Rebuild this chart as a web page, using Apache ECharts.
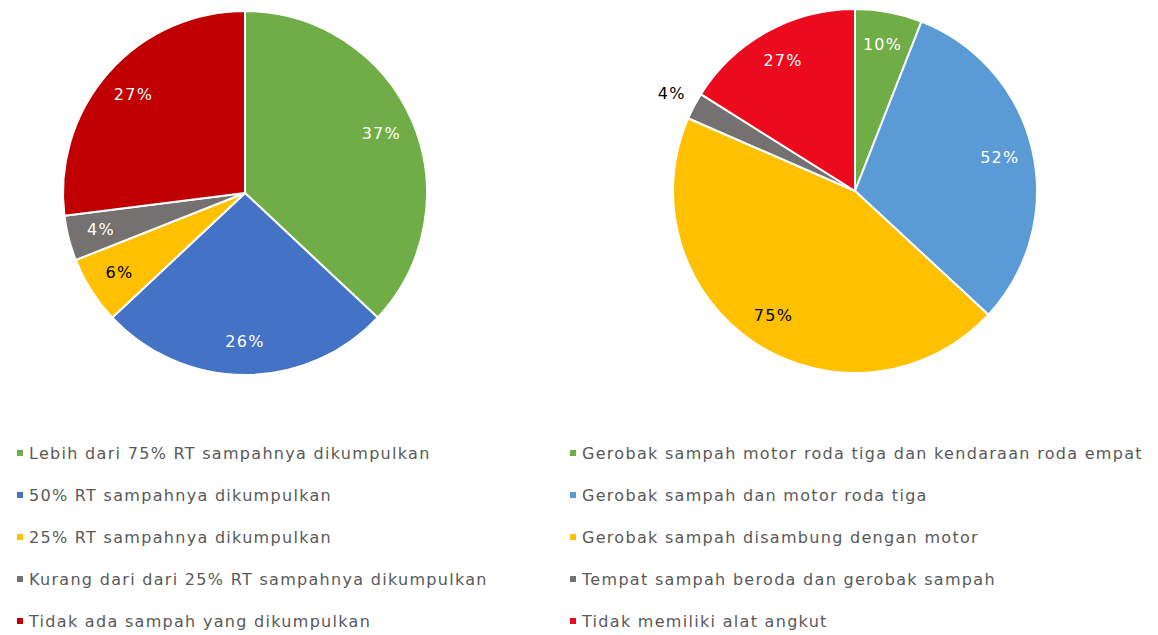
<!DOCTYPE html>
<html>
<head>
<meta charset="utf-8">
<script src="https://cdn.jsdelivr.net/npm/echarts@6/dist/echarts.min.js"></script>
<style>
  html, body { margin: 0; padding: 0; background: #fff; }
  #main { width: 1158px; height: 635px; }
  /* Excel's text is set a little looser than DejaVu's default */
  #main text { letter-spacing: 1.3px; }
</style>
</head>
<body>
<div id="main"></div>
<script>
// left pie: share of households whose waste is collected
const leftNames = [
  'Lebih dari 75% RT sampahnya dikumpulkan',
  '50% RT sampahnya dikumpulkan',
  '25% RT sampahnya dikumpulkan',
  'Kurang dari dari 25% RT sampahnya dikumpulkan',
  'Tidak ada sampah yang dikumpulkan'
];
const leftValues = [37, 26, 6, 4, 27];
const leftColors = ['#70AD47', '#4472C4', '#FFC000', '#767171', '#C00000'];
const leftLabelColors = ['#fff', '#fff', '#000', '#fff', '#fff'];

// right pie: transport equipment
const rightNames = [
  'Gerobak sampah motor roda tiga dan kendaraan roda empat',
  'Gerobak sampah dan motor roda tiga',
  'Gerobak sampah disambung dengan motor',
  'Tempat sampah beroda dan gerobak sampah',
  'Tidak memiliki alat angkut'
];
const rightValues = [10, 52, 75, 4, 27];
const rightColors = ['#70AD47', '#5B9BD5', '#FFC000', '#767171', '#EB0A1E'];
const rightLabelColors = ['#fff', '#fff', '#000', '#000', '#fff'];
const rightOutside = [false, false, false, true, false];

const font = '"DejaVu Sans", sans-serif';
const R = 182;

function slices(names, values, colors) {
  return names.map((n, i) => ({ name: n, value: values[i], itemStyle: { color: colors[i] } }));
}

// label layer: transparent pie with larger radius so the "inside" labels sit near the rim
function labelLayer(names, values, labelColors, center, skip) {
  return {
    type: 'pie',
    center: center,
    radius: [0, R * 1.6],
    startAngle: 90,
    clockwise: true,
    silent: true,
    animation: false,
    itemStyle: { color: 'rgba(0,0,0,0)' },
    label: { show: true, position: 'inside', formatter: '{c}%', fontSize: 16, fontFamily: font },
    labelLine: { show: false },
    data: names.map((n, i) => ({
      name: n,
      value: values[i],
      label: { show: !(skip && skip[i]), color: labelColors[i] }
    }))
  };
}

const chart = echarts.init(document.getElementById('main'), null, { renderer: 'svg' });

const rightMain = slices(rightNames, rightValues, rightColors);
rightMain.forEach((d, i) => {
  if (rightOutside[i]) {
    d.label = { show: true, position: 'outside', formatter: '{c}%', color: '#000',
                fontSize: 16, fontFamily: font, offset: [2, -10] };
    d.labelLine = { show: false, length: 6, length2: 0 };
  }
});

const legendCommon = {
  orient: 'vertical',
  icon: 'rect',
  itemWidth: 8,
  itemHeight: 8,
  itemGap: 22,
  height: 220,
  selectedMode: false,
  textStyle: { color: '#595959', fontSize: 16, fontFamily: font, lineHeight: 20 }
};

chart.setOption({
  animation: false,
  legend: [
    Object.assign({}, legendCommon, { left: 10, top: 438, width: 540, data: leftNames }),
    Object.assign({}, legendCommon, { left: 563, top: 438, width: 590, data: rightNames })
  ],
  series: [
    {
      type: 'pie',
      center: [245, 193],
      radius: [0, R],
      startAngle: 90,
      clockwise: true,
      animation: false,
      itemStyle: { borderColor: '#fff', borderWidth: 2 },
      label: { show: false },
      labelLine: { show: false },
      data: slices(leftNames, leftValues, leftColors)
    },
    {
      type: 'pie',
      center: [855, 191],
      radius: [0, R],
      startAngle: 90,
      clockwise: true,
      animation: false,
      itemStyle: { borderColor: '#fff', borderWidth: 2 },
      label: { show: false },
      labelLine: { show: false },
      data: rightMain
    },
    labelLayer(leftNames, leftValues, leftLabelColors, [245, 193]),
    labelLayer(rightNames, rightValues, rightLabelColors, [855, 191], rightOutside)
  ]
});
</script>
</body>
</html>
